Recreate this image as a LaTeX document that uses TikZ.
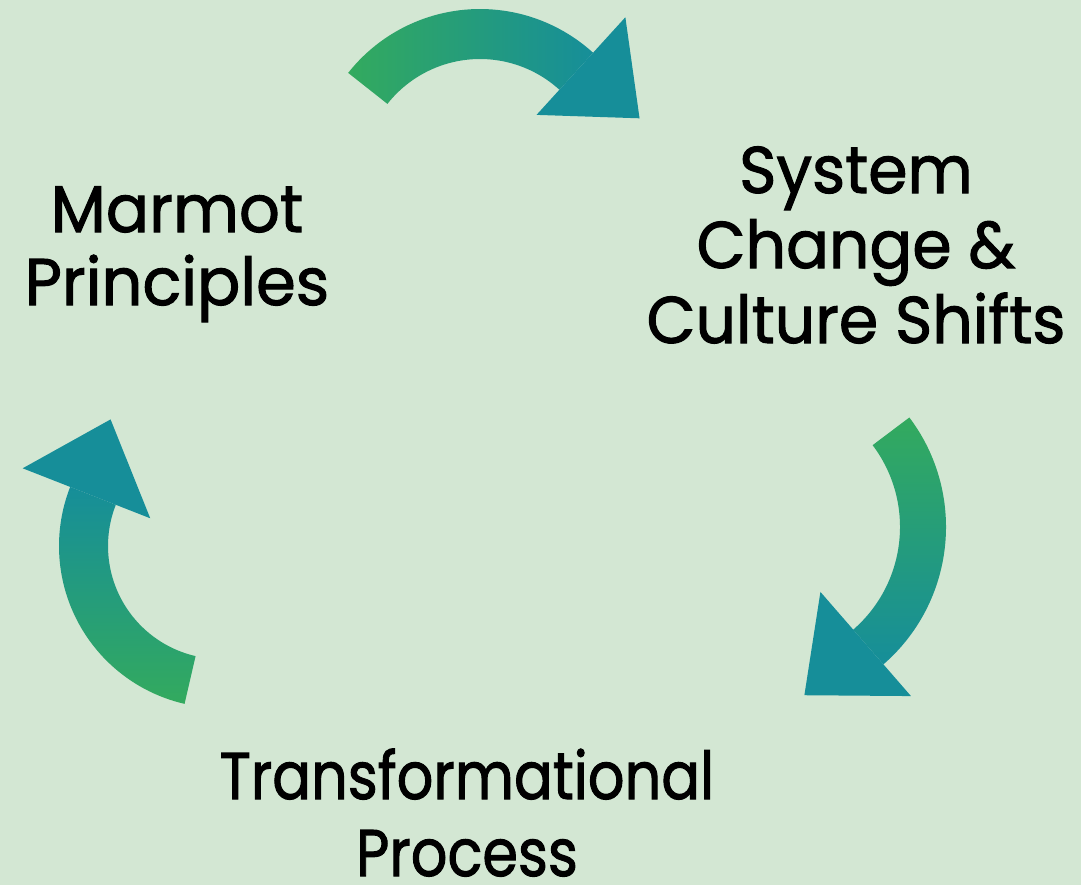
\documentclass[tikz,border=0pt]{standalone}
\usepackage{fontspec}
\newfontfamily\cyclefont{Poppins}[FakeBold=1.6]
\usetikzlibrary{calc}
\definecolor{bgmint}{HTML}{D3E7D3}
\definecolor{leafgreen}{HTML}{33AA5E}
\definecolor{deepteal}{HTML}{168E99}
\tikzset{
  cyclelabel/.style={
    align=center,
    anchor=base,
    transform shape,
    font=\cyclefont\fontsize{33}{37.5}\selectfont,
    text=black},
  cycleband/.style={
    top color=deepteal,
    bottom color=leafgreen},
  cyclehead/.style={fill=deepteal},
}

\begin{document}
\begin{tikzpicture}[x=0.5pt,y=0.5pt]
\fill[bgmint] (0,0) rectangle (1081,-885);
\useasboundingbox (0,0) rectangle (1081,-885);
% centre / start / end angle / band radii / head radii / tip radius / shading angle
\foreach \cx/\cy/\a/\b/\ri/\ro/\hi/\ho/\rt/\sa in {480/-177/141.7/47.7/118/168/84/216/170/-90,
                                                764/-527/37/-49/136/182/86/224/173/180,
                                                221/-546/257/158.6/113/162/76/213/168/0}{
    \shade[cycleband, shading angle=\sa]
        ([shift={(\cx,\cy)}]\a:\ro) arc[start angle=\a, end angle=\b, radius=\ro]
        -- ([shift={(\cx,\cy)}]\b:\ri) arc[start angle=\b, end angle=\a, radius=\ri] -- cycle;
    \fill[cyclehead] ([shift={(\cx,\cy)}]\b:\hi) -- ([shift={(\cx,\cy)}]\b:\ho)
        -- ([shift={(\cx,\cy)}]\b-27.5:\rt) -- cycle;
    }
\node[cyclelabel, xscale=0.97] (marmot) at (177,-305) {Marmot\\[-1pt]Principles};
\node[cyclelabel, xscale=0.96] (system) at (856,-343) {System\\Change \&\\Culture Shifts};
\node[cyclelabel, xscale=0.87, inner sep=1pt] (process) at (467,-876) {Transformational\\[1pt]Process};
\end{tikzpicture}
\end{document}
